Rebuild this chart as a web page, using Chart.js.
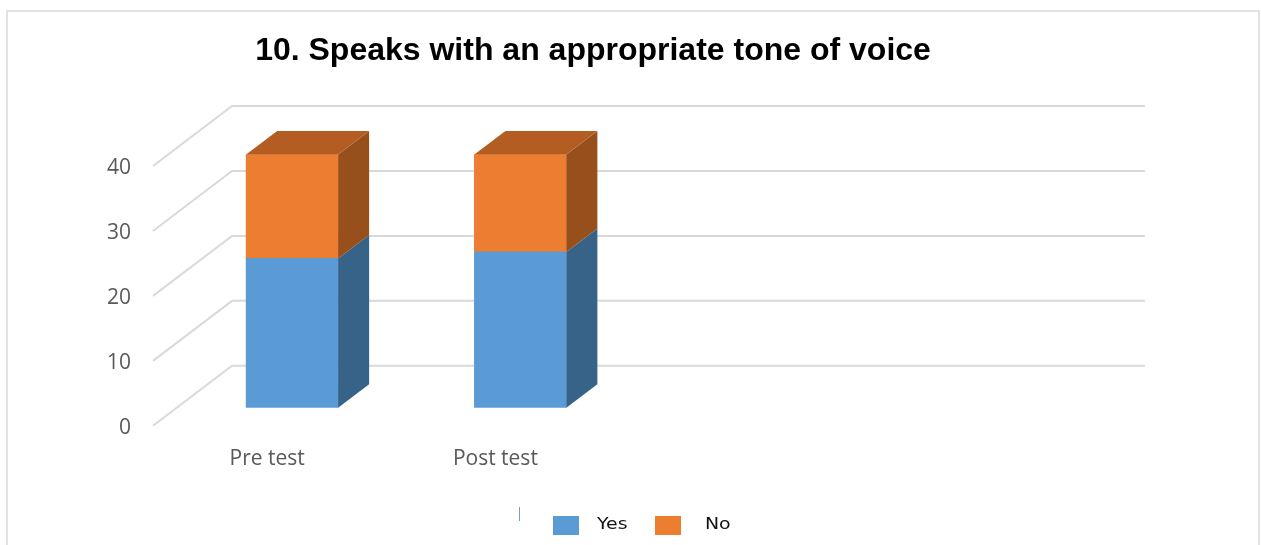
<!DOCTYPE html>
<html>
<head>
<meta charset="utf-8">
<title>Speaks with an appropriate tone of voice</title>
<script src="https://cdn.jsdelivr.net/npm/chart.js@4"></script>
<style>
  html, body { margin: 0; background: #fff; overflow: hidden; }
  #wrap { position: relative; width: 1261px; height: 545px; overflow: hidden; }
  #frame { position: absolute; left: 6px; top: 10px; width: 1250px; height: 560px; border: 2px solid #e2e2e2; }
  canvas { position: absolute; left: 0; top: 0; }
  #marker { position: absolute; left: 519px; top: 507px; width: 1px; height: 14px; background: #7f9db9; }
  .key { position: absolute; top: 516px; width: 26px; height: 19px; }
  .keyText { position: absolute; top: 514px; font: 16px "DejaVu Sans", sans-serif; color: #111; transform: scaleX(1.18); transform-origin: left; }
</style>
</head>
<body>
<div id="wrap">
  <div id="frame"></div>
  <canvas id="chart" width="1261" height="545"></canvas>
  <div id="marker"></div>
</div>
<script>
const titleText = '10. Speaks with an appropriate tone of voice';
const categories = ['Pre test', 'Post test', '', ''];
const yesValues = [23, 24];
const noValues = [16, 15];
const yMax = 40;
const yStep = 10;

const blue = '#5b9bd5', blueSide = '#386388';
const orange = '#ed7d31', orangeSide = '#974f1c', orangeTop = '#b35d22';
const gridColor = '#d9d9d9';

// 3D look: wall sits behind the axis plane, bars stand part way back.
// Floor lines start a little above the tick label centre (frontDy).
const frontDy = -2;
const wallDx = 79, wallDy = -62;
const barDx = 25, barDy = -20;
const depthDx = 31, depthDy = -23.5;

function poly(ctx, color, pts) {
  ctx.fillStyle = color;
  ctx.beginPath();
  pts.forEach((p, i) => i ? ctx.lineTo(p[0], p[1]) : ctx.moveTo(p[0], p[1]));
  ctx.closePath();
  ctx.fill();
}

const fake3d = {
  id: 'fake3d',
  // y axis box is kept narrow so the title centres right; stop it clipping its labels
  afterLayout(chart) {
    chart.scales.y.left = 0;
  },
  beforeDatasetsDraw(chart) {
    const { ctx, scales, chartArea } = chart;
    // floor and wall lines for each value tick
    ctx.save();
    ctx.strokeStyle = gridColor;
    ctx.lineWidth = 2;
    scales.y.ticks.forEach(t => {
      const py = scales.y.getPixelForValue(t.value);
      ctx.beginPath();
      ctx.moveTo(chartArea.left, py + frontDy);
      ctx.lineTo(chartArea.left + wallDx, py + wallDy);
      ctx.lineTo(chartArea.right + wallDx, py + wallDy);
      ctx.stroke();
    });
    ctx.restore();
    ctx.save();
    ctx.translate(barDx, barDy);
  },
  afterDatasetsDraw(chart) {
    const { ctx } = chart;
    const sides = [blueSide, orangeSide];
    chart.data.datasets.forEach((ds, i) => {
      chart.getDatasetMeta(i).data.forEach(bar => {
        const r = bar.x + bar.width / 2;
        poly(ctx, sides[i], [
          [r, bar.base], [r + depthDx, bar.base + depthDy],
          [r + depthDx, bar.y + depthDy], [r, bar.y]
        ]);
        // lid only on the top segment of the stack
        if (i === chart.data.datasets.length - 1) {
          const l = bar.x - bar.width / 2;
          poly(ctx, orangeTop, [
            [l, bar.y], [r, bar.y],
            [r + depthDx, bar.y + depthDy], [l + depthDx, bar.y + depthDy]
          ]);
        }
      });
    });
    ctx.restore();
  }
};

new Chart(document.getElementById('chart').getContext('2d'), {
  type: 'bar',
  plugins: [fake3d],
  data: {
    labels: categories,
    datasets: [
      { label: 'Yes', data: yesValues, backgroundColor: blue, barThickness: 92, stack: 's' },
      { label: 'No', data: noValues, backgroundColor: orange, barThickness: 92, stack: 's' }
    ]
  },
  options: {
    responsive: false,
    animation: false,
    layout: { padding: { left: 120, right: 195, top: 0, bottom: 54 } },
    plugins: {
      legend: { display: false },
      tooltip: { enabled: false },
      title: {
        display: true,
        text: titleText,
        color: '#000',
        font: { family: '"Liberation Sans", Arial, sans-serif', size: 32, weight: 'bold' },
        padding: { top: 32, bottom: 97.6 }
      }
    },
    scales: {
      x: {
        stacked: true,
        grid: { display: false, drawTicks: false },
        border: { display: false },
        ticks: {
          color: '#595959', padding: 19, maxRotation: 0, autoSkip: false,
          font: { family: '"Open Sans", sans-serif', size: 21 }
        }
      },
      y: {
        stacked: true,
        min: 0,
        max: yMax,
        afterFit(scale) { scale.width = 33; },
        grid: { display: false, drawTicks: false },
        border: { display: false },
        ticks: {
          stepSize: yStep, color: '#595959', padding: 22,
          font: { family: '"Open Sans", sans-serif', size: 21 }
        }
      }
    }
  }
});

// legend row under the plot
const wrap = document.getElementById('wrap');
[['Yes', blue, 553, 597], ['No', orange, 655, 705]].forEach(([name, color, boxX, textX]) => {
  const box = document.createElement('div');
  box.className = 'key';
  box.style.left = boxX + 'px';
  box.style.background = color;
  const txt = document.createElement('div');
  txt.className = 'keyText';
  txt.style.left = textX + 'px';
  txt.textContent = name;
  wrap.append(box, txt);
});
</script>
</body>
</html>
